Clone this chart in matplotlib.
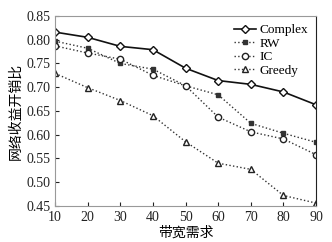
import matplotlib
matplotlib.use("Agg")
import matplotlib.pyplot as plt

bandwidth = [10, 20, 30, 40, 50, 60, 70, 80, 90]
complex_vals = [0.816, 0.805, 0.786, 0.779, 0.740, 0.714, 0.706, 0.690, 0.663]
rw_vals = [0.797, 0.782, 0.750, 0.738, 0.703, 0.684, 0.624, 0.603, 0.584]
ic_vals = [0.787, 0.772, 0.759, 0.725, 0.703, 0.637, 0.606, 0.591, 0.558]
greedy_vals = [0.729, 0.699, 0.672, 0.640, 0.585, 0.540, 0.527, 0.472, 0.456]
yticks = [0.45, 0.50, 0.55, 0.60, 0.65, 0.70, 0.75, 0.80, 0.85]

plt.rcParams['font.family'] = ['Liberation Serif', 'Noto Sans CJK SC']

fig = plt.figure(figsize=(3.32, 2.42), dpi=100)
ax = fig.add_axes([0.166, 0.149, 0.786, 0.785])

ax.plot(bandwidth, complex_vals, '-', color='#111111', lw=1.2,
        marker='D', ms=4, mfc='white', mec='#111111', mew=1.0, label='Complex')
ax.plot(bandwidth, rw_vals, ':', color='#333333', lw=1.0,
        marker='s', ms=2.5, mfc='#333333', mec='#333333', label='RW')
ax.plot(bandwidth, ic_vals, ':', color='#333333', lw=1.0,
        marker='o', ms=4.5, mfc='white', mec='#222222', mew=1.0, label='IC')
ax.plot(bandwidth, greedy_vals, ':', color='#333333', lw=1.0,
        marker='^', ms=4.5, mfc='white', mec='#222222', mew=1.0, label='Greedy')

ax.set_xlim(10, 90)
ax.set_ylim(0.45, 0.85)
ax.set_xticks(bandwidth)
ax.set_yticks(yticks)
ax.set_yticklabels(['%.2f' % v for v in yticks])
ax.tick_params(direction='in', length=3, labelsize=10, colors='#222222')
ax.tick_params(axis='x', pad=4)
ax.tick_params(axis='y', pad=3)

for side in ['top', 'left', 'bottom']:
    ax.spines[side].set_color('#999999')
ax.spines['right'].set_color('#222222')

ax.set_xlabel('带宽需求', fontsize=10, family=['Noto Sans CJK SC'], labelpad=1)
ax.set_ylabel('网络收益开销比', fontsize=10, family=['Noto Sans CJK SC'], labelpad=3)

ax.legend(loc='upper right', frameon=False, fontsize=9.5, handlelength=1.6,
          handletextpad=0.3, labelspacing=0.1, borderaxespad=0.2)

fig.savefig('out.png', dpi=100)
